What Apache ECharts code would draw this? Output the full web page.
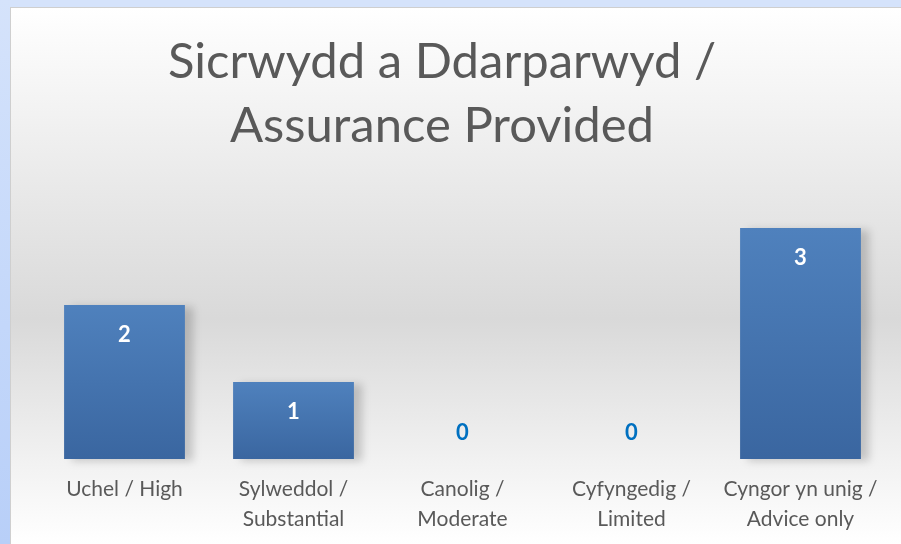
<!DOCTYPE html>
<html>
<head>
<meta charset="utf-8">
<script src="https://cdn.jsdelivr.net/npm/echarts@6/dist/echarts.min.js"></script>
<style>
  html, body { margin: 0; padding: 0; width: 901px; height: 544px; overflow: hidden; }
  body { background: #d5e3fb; position: relative; }
  #leftstrip { position: absolute; left: 0; top: 0; width: 10px; height: 544px;
    background: linear-gradient(to bottom, #d5e3fb 0%, #c3d7fa 60%, #b8cff8 100%); }
  #frame { position: absolute; left: 10px; top: 7px; width: 891px; height: 537px;
    border-left: 1px solid #cfcfcf; border-top: 1px solid #cfcfcf; box-sizing: border-box;
    background: linear-gradient(to bottom, #ffffff 0%, #e8e8e8 35%, #d9d9d9 58%, #f2f2f2 85%, #ffffff 100%); }
  #chart { position: absolute; left: 0; top: 0; width: 901px; height: 544px; }
</style>
</head>
<body>
<div id="leftstrip"></div>
<div id="frame"></div>
<div id="chart"></div>
<script>
const titleLines = ['Sicrwydd a Ddarparwyd /', 'Assurance Provided'];
const categories = ['Uchel / High', 'Sylweddol /\nSubstantial', 'Canolig /\nModerate', 'Cyfyngedig /\nLimited', 'Cyngor yn unig /\nAdvice only'];
const values = [2, 1, 0, 0, 3];

const chart = echarts.init(document.getElementById('chart'), null, { renderer: 'canvas' });
const FONT = 'Lato, "Open Sans", sans-serif';

chart.setOption({
  backgroundColor: 'transparent',
  animation: false,
  graphic: [{
    type: 'text',
    x: 442, y: 30,
    style: {
      text: titleLines.join('\n'),
      font: '49px ' + FONT,
      fill: '#595959',
      textAlign: 'center',
      textVerticalAlign: 'top',
      lineHeight: 64
    }
  }],
  grid: { left: 40, right: 16, top: 228, bottom: 85 },
  xAxis: {
    type: 'category',
    data: categories,
    axisLine: { show: false },
    axisTick: { show: false },
    axisLabel: { color: '#595959', fontSize: 21, fontFamily: FONT, lineHeight: 30, margin: 15, interval: 0 }
  },
  yAxis: { type: 'value', min: 0, max: 3, show: false, splitLine: { show: false } },
  series: [{
    type: 'bar',
    barCategoryGap: '28.5%',
    data: values.map(v => ({
      value: v,
      label: v === 0
        ? { show: true, position: 'top', distance: 15, color: '#0070c0' }
        : { show: true, position: 'insideTop', distance: 19, color: '#ffffff' }
    })),
    label: { fontSize: 22, fontWeight: 'bold', fontFamily: FONT },
    itemStyle: {
      color: new echarts.graphic.LinearGradient(0, 0, 0, 1, [
        { offset: 0, color: '#4f81bd' },
        { offset: 1, color: '#3a66a0' }
      ]),
      shadowColor: 'rgba(0,0,0,0.18)',
      shadowBlur: 8,
      shadowOffsetX: 8,
      shadowOffsetY: 2
    }
  }]
});
</script>
</body>
</html>
